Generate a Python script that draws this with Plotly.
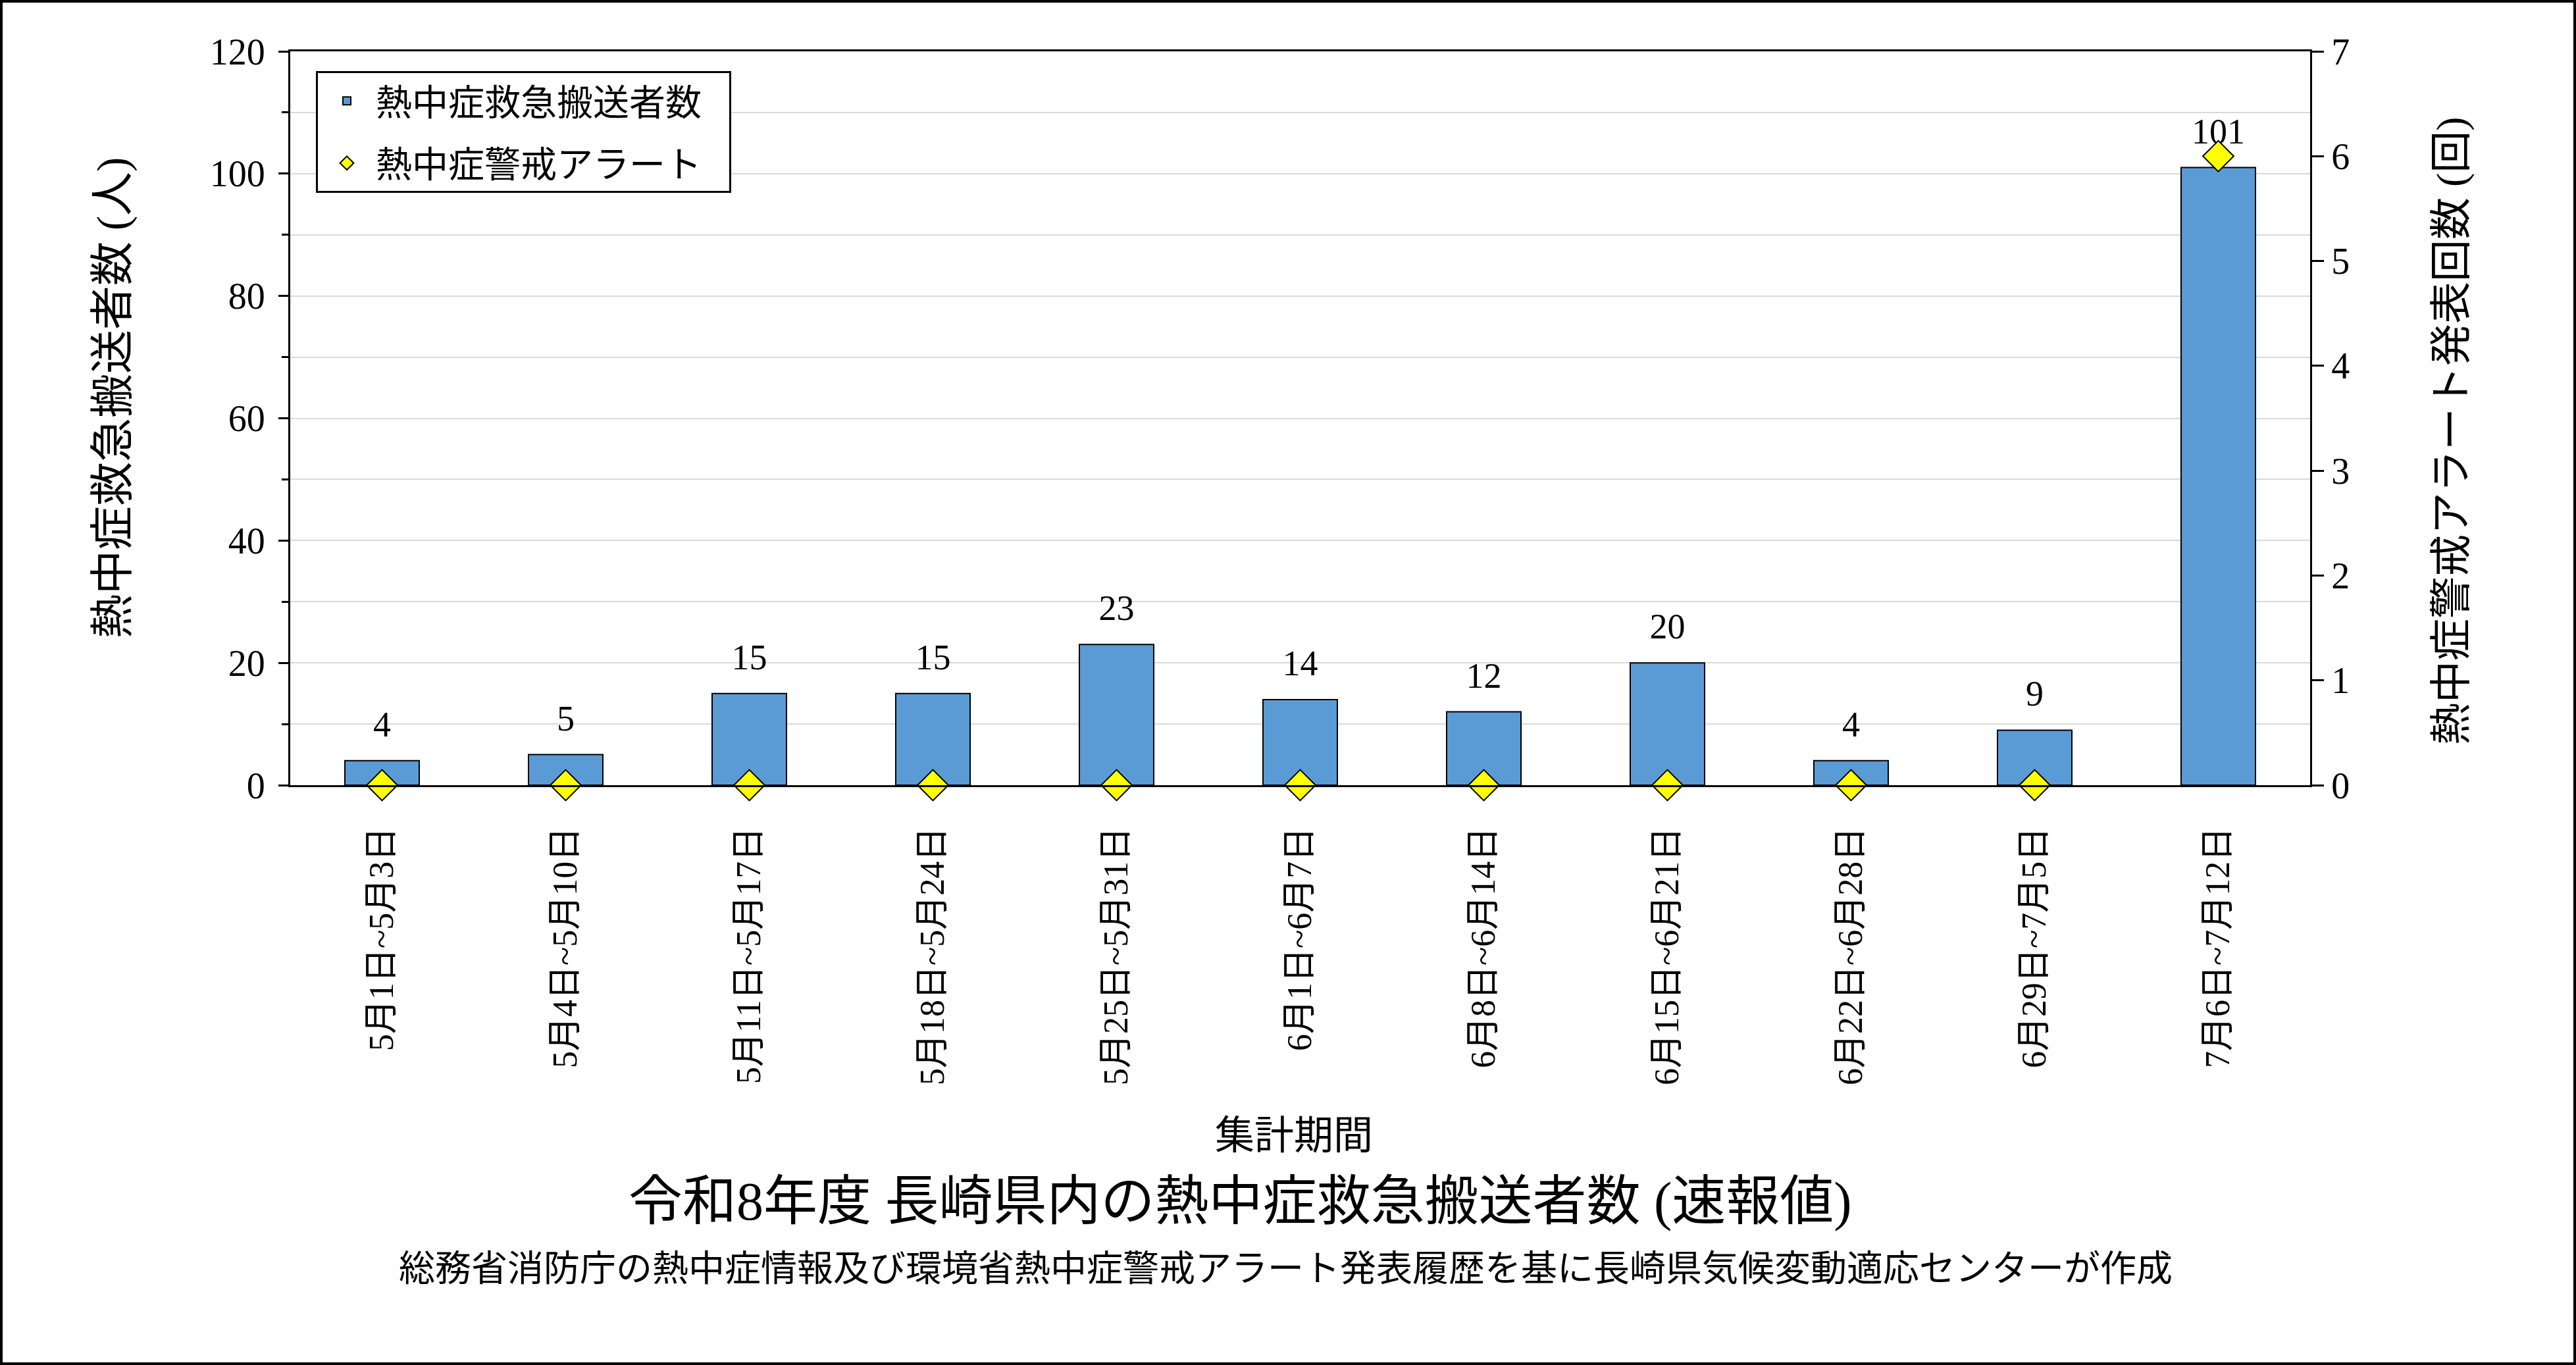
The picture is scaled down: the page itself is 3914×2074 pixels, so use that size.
import plotly.graph_objects as go

# ---- data ----
categories = [
    "5月1日~5月3日", "5月4日~5月10日", "5月11日~5月17日", "5月18日~5月24日",
    "5月25日~5月31日", "6月1日~6月7日", "6月8日~6月14日", "6月15日~6月21日",
    "6月22日~6月28日", "6月29日~7月5日", "7月6日~7月12日",
]
transport_counts = [4, 5, 15, 15, 23, 14, 12, 20, 4, 9, 101]
alert_counts = [0, 0, 0, 0, 0, 0, 0, 0, 0, 0, 6]

bar_name = "熱中症救急搬送者数"
alert_name = "熱中症警戒アラート"
left_title = "熱中症救急搬送者数 (人)"
right_title = "熱中症警戒アラート発表回数 (回)"
x_title = "集計期間"
main_title = "令和8年度 長崎県内の熱中症救急搬送者数 (速報値)"
sub_title = "総務省消防庁の熱中症情報及び環境省熱中症警戒アラート発表履歴を基に長崎県気候変動適応センターが作成"

FONT = "'Liberation Serif', 'Noto Sans CJK JP', serif"
CJK = "'Noto Sans CJK JP', sans-serif"
PAD = "\u00a0\u00a0\u00a0"

W, H = 3914, 2074
ML, MR, MT, MB = 441, 404, 78, 881
PW, PH = W - ML - MR, H - MT - MB


def px(xp):
    return (xp - ML) / PW


def py(yp):
    return (H - MB - yp) / PH


fig = go.Figure()
fig.add_trace(go.Bar(
    x=categories, y=transport_counts, name=bar_name + PAD, legendgroup="a",
    marker=dict(color="#5B9BD5", line=dict(color="black", width=2)),
    cliponaxis=False, hoverinfo="skip",
))
# value labels above bars
fig.add_trace(go.Scatter(
    x=categories, y=transport_counts, mode="markers+text",
    marker=dict(size=36, opacity=0), showlegend=False, hoverinfo="skip",
    text=[str(v) for v in transport_counts], textposition="top center",
    textfont=dict(family=FONT, size=54, color="black"), cliponaxis=False,
))
fig.add_trace(go.Scatter(
    x=categories, y=alert_counts, name=alert_name, legendgroup="b",
    yaxis="y2", mode="markers", cliponaxis=False, hoverinfo="skip",
    marker=dict(symbol="diamond", size=36, color="#FFFF00",
                line=dict(color="black", width=2)),
))

fig.update_layout(
    width=W, height=H,
    margin=dict(l=ML, r=MR, t=MT, b=MB, autoexpand=False),
    paper_bgcolor="white", plot_bgcolor="white",
    bargap=0.595,
    font=dict(family=FONT, color="black"),
    showlegend=True,
    legend=dict(
        x=px(480), y=py(108), xanchor="left", yanchor="top",
        bgcolor="white", bordercolor="black", borderwidth=3,
        font=dict(family=CJK, size=55, color="black"),
        tracegroupgap=20, traceorder="grouped", itemwidth=78,
    ),
    xaxis=dict(
        range=[-0.5, len(categories) - 0.5],
        showline=True, linecolor="black", linewidth=3, mirror=True,
        ticks="", tickangle=-90, ticklabelstandoff=40,
        tickfont=dict(family=FONT, size=52, color="black"),
        showgrid=False, automargin=False,
    ),
    yaxis=dict(
        range=[0, 120], dtick=20, tick0=0,
        ticks="outside", ticklen=15, tickwidth=3, tickcolor="black",
        showline=True, linecolor="black", linewidth=3,
        showgrid=True, gridcolor="#D9D9D9", gridwidth=2, zeroline=False,
        tickfont=dict(family=FONT, size=56, color="black"),
        ticklabelstandoff=9,
        minor=dict(dtick=10, ticks="outside", ticklen=10, tickwidth=3,
                   tickcolor="black", showgrid=True, gridcolor="#D9D9D9",
                   gridwidth=2),
        automargin=False,
    ),
    yaxis2=dict(
        range=[0, 7], dtick=1, tick0=0, overlaying="y", side="right",
        ticks="outside", ticklen=18, tickwidth=3, tickcolor="black",
        showline=True, linecolor="black", linewidth=3,
        showgrid=False, zeroline=False,
        tickfont=dict(family=FONT, size=56, color="black"),
        automargin=False,
    ),
    annotations=[
        dict(text=left_title, xref="paper", yref="paper", x=px(171), y=py(605),
             textangle=-90, showarrow=False, xanchor="center", yanchor="middle",
             font=dict(family=FONT, size=67, color="black")),
        dict(text=right_title, xref="paper", yref="paper", x=px(3724), y=py(655),
             textangle=-90, showarrow=False, xanchor="center", yanchor="middle",
             font=dict(family=FONT, size=64, color="black")),
        dict(text=x_title, xref="paper", yref="paper", x=px(1966), y=py(1726),
             showarrow=False, xanchor="center", yanchor="middle",
             font=dict(family=FONT, size=60, color="black")),
        dict(text=main_title, xref="paper", yref="paper", x=px(1884), y=py(1825),
             showarrow=False, xanchor="center", yanchor="middle",
             font=dict(family=FONT, size=82, color="black")),
        dict(text=sub_title, xref="paper", yref="paper", x=px(1953), y=py(1927),
             showarrow=False, xanchor="center", yanchor="middle",
             font=dict(family=FONT, size=55, color="black")),
    ],
    shapes=[
        dict(type="rect", xref="paper", yref="paper",
             x0=px(2), x1=px(W - 2), y0=py(H - 2), y1=py(2),
             line=dict(color="black", width=4), fillcolor="rgba(0,0,0,0)",
             layer="above"),
    ],
)

fig.write_html("out.html")
